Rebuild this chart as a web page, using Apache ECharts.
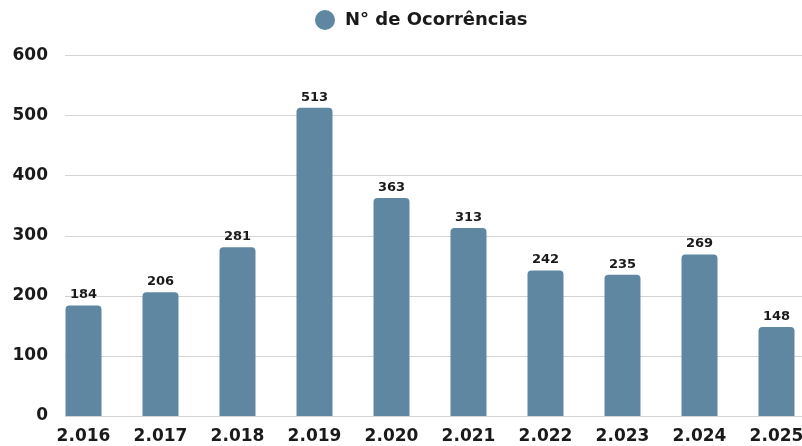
<!DOCTYPE html>
<html>
<head>
<meta charset="utf-8">
<script src="https://cdn.jsdelivr.net/npm/echarts@6/dist/echarts.min.js"></script>
<style>
  html, body { margin: 0; padding: 0; background: #fff; }
  #chart { width: 802px; height: 446px; }
</style>
</head>
<body>
<div id="chart"></div>
<script>
var years = ['2.016', '2.017', '2.018', '2.019', '2.020', '2.021', '2.022', '2.023', '2.024', '2.025']
var ocorrencias = [184, 206, 281, 513, 363, 313, 242, 235, 269, 148]
var seriesName = 'N° de Ocorrências'
var barColor = '#5f87a1'
var fontFam = '"DejaVu Sans", sans-serif'

// bars sit in slots of one unit, centred on i + 0.5; the last slot runs past the right edge
var slotCenters = years.map(function (y, i) { return i + 0.5 })
var barData = ocorrencias.map(function (v, i) { return [slotCenters[i], v] })
var slotMax = 9.8312

var chart = echarts.init(document.getElementById('chart'))
chart.setOption({
  animation: false,
  legend: {
    top: 5,
    left: 310,
    icon: 'circle',
    itemWidth: 20,
    itemHeight: 20,
    textStyle: { fontFamily: fontFam, fontSize: 18, fontWeight: 'bold', color: '#1a1a1a', padding: [0, 0, 0, 5] },
    data: [seriesName]
  },
  // grid 0 carries the y axis and gridlines, grid 1 carries the bars
  grid: [
    { left: 65, right: 0, top: 55.5, bottom: 30, outerBoundsMode: 'none' },
    { left: 45, right: 0, top: 55.5, bottom: 30, outerBoundsMode: 'none' }
  ],
  xAxis: [
    { type: 'value', gridIndex: 0, show: false },
    {
      type: 'value',
      gridIndex: 1,
      min: 0,
      max: slotMax,
      axisLine: { show: false },
      axisTick: { show: false },
      splitLine: { show: false },
      axisLabel: {
        customValues: slotCenters,
        margin: 12,
        fontFamily: fontFam,
        fontSize: 17,
        fontWeight: 'bold',
        color: '#1a1a1a',
        formatter: function (v) { return years[Math.floor(v)] }
      }
    }
  ],
  yAxis: [
    {
      type: 'value',
      gridIndex: 0,
      min: 0,
      max: 600,
      interval: 100,
      axisLine: { show: false },
      axisTick: { show: false },
      splitLine: { lineStyle: { color: '#d4d4d4', width: 1 } },
      axisLabel: { margin: 17, fontFamily: fontFam, fontSize: 17, fontWeight: 'bold', color: '#1a1a1a' }
    },
    { type: 'value', gridIndex: 1, min: 0, max: 600, interval: 100, show: false }
  ],
  series: [{
    name: seriesName,
    type: 'bar',
    xAxisIndex: 1,
    yAxisIndex: 1,
    data: barData,
    barWidth: 36,
    itemStyle: { color: barColor, borderRadius: [4, 4, 0, 0] },
    label: {
      show: true,
      position: 'top',
      distance: 4,
      fontFamily: fontFam,
      fontSize: 13,
      fontWeight: 'bold',
      color: '#1a1a1a',
      formatter: function (p) { return p.value[1] }
    }
  }]
})
</script>
</body>
</html>
